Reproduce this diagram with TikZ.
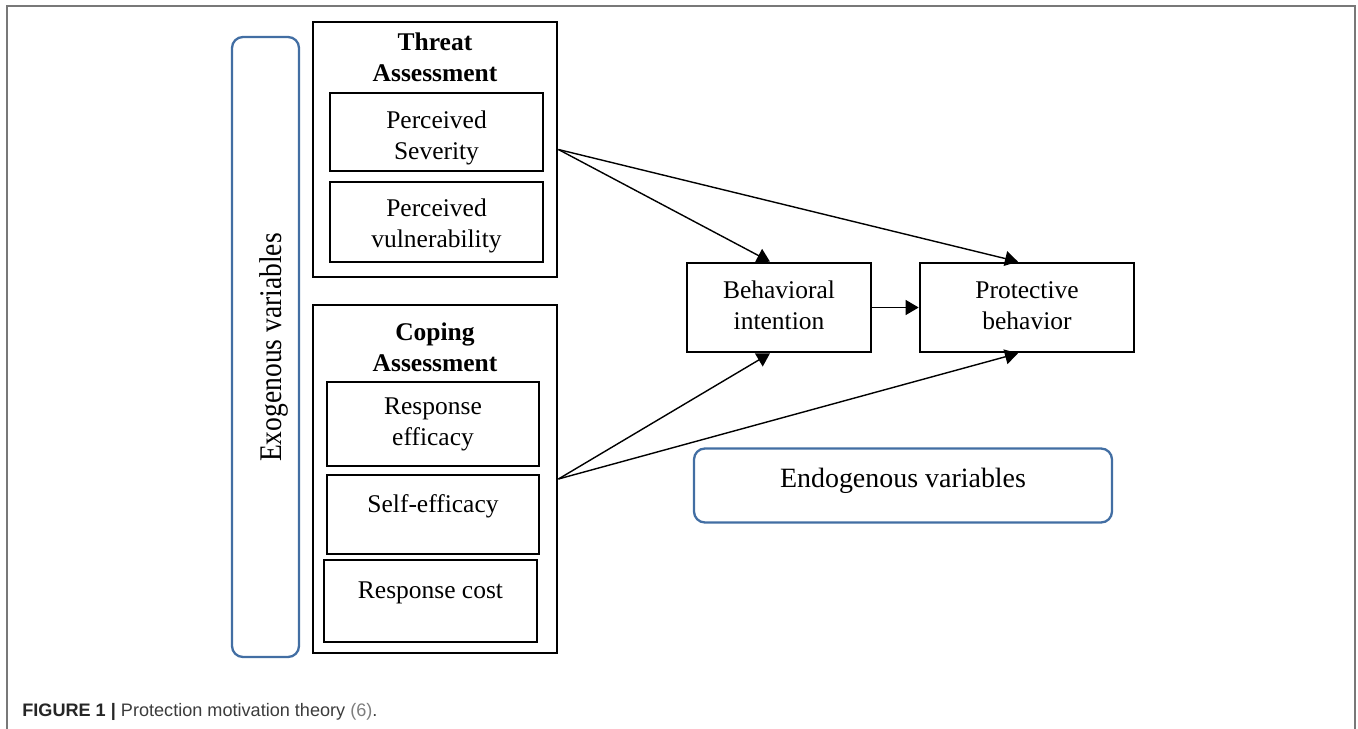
\documentclass[tikz,border=0pt]{standalone}
\usepackage{fontspec}
\setmainfont{Liberation Serif}
\newfontfamily\capfont{Liberation Sans}
\usepackage{graphicx}
\usepackage{tikz}
\usetikzlibrary{shapes,arrows.meta}
\definecolor{exoblue}{RGB}{66,110,163}
\definecolor{framegray}{RGB}{120,120,120}
\definecolor{captext}{RGB}{60,60,60}
\definecolor{capref}{RGB}{125,125,125}

\begin{document}
\begin{tikzpicture}[auto,>={Triangle[length=7.4pt,width=8.5pt]},
	box/.style={draw, rectangle, line width=1.5pt, font=\fontsize{14.5}{17.6}\selectfont},
	group/.style={draw, rectangle, line width=1.6pt, minimum width=4.88cm},
	varbox/.style={draw=exoblue, rectangle, rounded corners=0.22cm, line width=1.3pt},
	raised/.style={text depth=0.43cm},
	title/.style={font=\fontsize{14.5}{17.6}\selectfont\bfseries},
	link/.style={->, line width=0.8pt}]
	\useasboundingbox (0,0) rectangle (27.16,-14.58);
	\draw[framegray, line width=1.1pt] (0.14,-14.7) -- (0.14,-0.12) -- (27.1,-0.12) -- (27.1,-14.7);
	\node[varbox, minimum width=1.34cm, minimum height=12.4cm] (exo) at (5.31cm,-6.94cm) {};
	\node[rotate=90, font=\fontsize{16}{18}\selectfont] (exolabel) at (5.48cm,-6.95cm) {\scalebox{0.98}[1.12]{Exogenous variables}};
	\node[group, minimum height=5.10cm] (threat) at (8.70cm,-2.99cm) {};
	\node[title] (threattitle) at (8.70cm,-1.19cm) {\begin{tabular}{c} Threat \\ Assessment \end{tabular}};
	\node[box, text depth=0.25cm, minimum width=4.26cm, minimum height=1.56cm] (severity) at (8.73cm,-2.64cm) {\begin{tabular}{c} Perceived \\ Severity \end{tabular}};
	\node[box, text depth=0.33cm, minimum width=4.26cm, minimum height=1.60cm] (vulnerability) at (8.73cm,-4.44cm) {\begin{tabular}{c} Perceived \\ vulnerability \end{tabular}};
	\node[group, minimum height=6.96cm] (coping) at (8.70cm,-9.58cm) {};
	\node[title] (copingtitle) at (8.70cm,-7.00cm) {\begin{tabular}{c} Coping \\ Assessment \end{tabular}};
	\node[box, minimum width=4.24cm, minimum height=1.68cm] (respeff) at (8.66cm,-8.48cm) {\begin{tabular}{c} Response \\ efficacy \end{tabular}};
	\node[box, raised, minimum width=4.24cm, minimum height=1.58cm] (selfeff) at (8.66cm,-10.29cm) {Self-efficacy};
	\node[box, raised, minimum width=4.26cm, minimum height=1.64cm] (respcost) at (8.61cm,-12.02cm) {Response cost};
	\node[box, minimum width=3.68cm, minimum height=1.78cm] (intention) at (15.58cm,-6.15cm) {\begin{tabular}{c} Behavioral \\ intention \end{tabular}};
	\node[box, minimum width=4.28cm, minimum height=1.78cm] (behavior) at (20.54cm,-6.15cm) {\begin{tabular}{c} Protective \\ behavior \end{tabular}};
	\node[varbox, text depth=0.3cm, minimum width=8.36cm, minimum height=1.48cm, font=\fontsize{15.9}{19}\selectfont] (endo) at (18.06cm,-9.71cm) {Endogenous variables};
	\path [link] (threat.east) edge ([xshift=-0.18cm]intention.north);
	\path [link] (threat.east) edge ([xshift=-0.18cm]behavior.north);
	\path [link] (coping.east) edge ([xshift=-0.18cm]intention.south);
	\path [link] (coping.east) edge ([xshift=-0.18cm]behavior.south);
	\path [link] (intention) edge (behavior);
	\node[anchor=base west, font=\capfont\fontsize{10.3}{13}\selectfont, text=captext, inner sep=0pt] (caption) at (0.44cm,-14.32cm) {\textbf{\color{black!85}FIGURE 1} {\color{black!85}\textbf{|}} Protection motivation theory {\color{capref}(6)}.};
\end{tikzpicture}
\end{document}
